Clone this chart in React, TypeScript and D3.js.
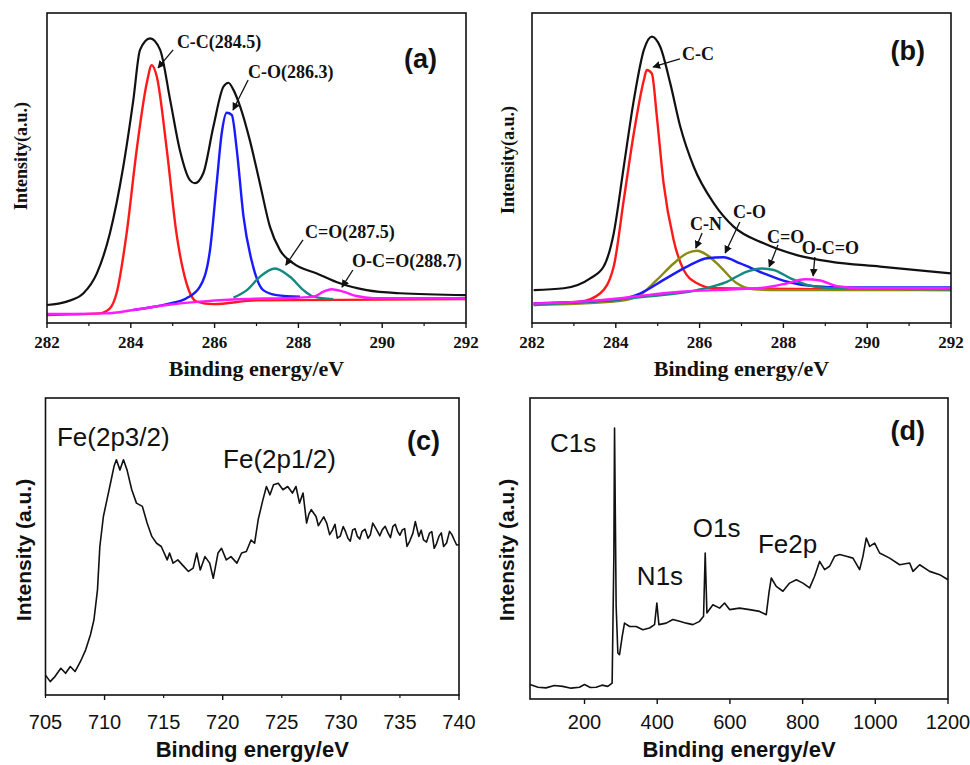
import React from "react";
import * as d3 from "d3";

type Pt = [number, number];

// ---- panel (a): C1s fit, sample 1 ----
const aEnvelope: Pt[] = [
  [282.0, 5.8], [282.47, 6.9], [282.87, 9.6], [283.19, 16.0], [283.5, 28.9], [283.82, 50.4],
  [284.06, 71.9], [284.22, 88.1], [284.46, 91.8], [284.7, 88.1], [284.94, 71.9], [285.17, 55.8],
  [285.41, 46.1], [285.53, 45.1], [285.73, 48.3], [285.97, 63.3], [286.21, 76.2], [286.33, 77.5],
  [286.45, 75.2], [286.61, 69.8], [286.84, 59.0], [287.08, 45.1], [287.32, 31.1], [287.56, 23.5],
  [287.88, 19.2], [288.44, 16.0], [288.99, 12.8], [289.63, 10.6], [290.42, 9.6], [292.0, 9.0],
];
const aCC: Pt[] = [
  [282.0, 2.6], [283.26, 3.1], [283.5, 4.7], [283.66, 9.6], [283.9, 28.9], [284.14, 55.8],
  [284.38, 77.3], [284.5, 83.2], [284.62, 79.5], [284.86, 55.8], [285.09, 28.9], [285.33, 12.8],
  [285.57, 6.9], [285.97, 6.1], [287.0, 7.3], [292.0, 7.7],
];
const aCO: Pt[] = [
  [284.06, 4.2], [284.86, 6.1], [285.33, 8.0], [285.65, 11.7], [285.89, 23.5], [286.05, 45.1],
  [286.17, 61.2], [286.29, 67.8], [286.41, 67.1], [286.53, 55.8], [286.69, 34.3], [286.92, 18.2],
  [287.16, 10.6], [287.48, 9.0], [288.04, 8.5],
];
const aCdO: Pt[] = [
  [286.45, 8.2], [286.77, 10.6], [287.08, 14.9], [287.44, 17.6], [287.8, 14.9], [288.12, 10.6],
  [288.36, 8.5], [288.83, 7.7],
];
const aOCO: Pt[] = [
  [282.0, 2.9], [283.42, 3.1], [284.06, 4.2], [284.86, 5.8], [285.65, 6.9], [286.45, 7.6],
  [288.04, 8.2], [288.36, 8.5], [288.6, 10.1], [288.79, 10.9], [289.07, 10.1], [289.39, 8.7],
  [289.79, 8.0], [292.0, 8.0],
];

// ---- panel (b): C1s fit, sample 2 ----
const bEnvelope: Pt[] = [
  [282.04, 10.6], [282.76, 11.2], [283.39, 14.4], [283.71, 18.2], [283.95, 28.9], [284.19, 50.4],
  [284.43, 71.9], [284.67, 88.1], [284.86, 92.4], [285.06, 89.1], [285.3, 77.3], [285.54, 63.3],
  [285.86, 50.4], [286.34, 38.6], [286.81, 31.1], [287.53, 25.7], [288.32, 21.9], [289.12, 19.8],
  [290.31, 18.2], [292.0, 16.0],
];
const bCC: Pt[] = [
  [282.04, 6.3], [283.15, 6.9], [283.63, 9.6], [283.95, 18.2], [284.19, 39.7], [284.43, 61.2],
  [284.67, 78.4], [284.74, 81.6], [284.86, 80.5], [284.98, 66.6], [285.14, 45.1], [285.38, 26.8],
  [285.62, 17.1], [285.94, 12.8], [286.34, 11.2], [292.0, 10.6],
];
const bCN: Pt[] = [
  [282.04, 5.8], [283.95, 6.9], [284.51, 8.5], [284.98, 13.9], [285.38, 19.2], [285.7, 22.5],
  [285.94, 23.3], [286.18, 21.9], [286.49, 18.2], [286.89, 12.8], [287.29, 10.9], [287.93, 10.6],
  [292.0, 10.6],
];
const bCO: Pt[] = [
  [282.04, 6.3], [283.95, 7.4], [284.59, 9.6], [285.14, 13.9], [285.7, 18.2], [286.18, 20.9],
  [286.57, 21.2], [286.97, 19.2], [287.53, 16.0], [288.09, 13.3], [288.72, 11.9], [289.52, 11.5],
  [292.0, 11.5],
];
const bCdO: Pt[] = [
  [282.04, 5.8], [284.74, 8.5], [285.94, 10.6], [286.65, 13.3], [287.13, 16.6], [287.49, 17.6],
  [287.77, 17.1], [288.17, 14.4], [288.56, 12.3], [289.12, 11.2], [292.0, 10.9],
];
const bOCO: Pt[] = [
  [282.04, 6.3], [283.15, 6.9], [284.11, 8.0], [284.74, 9.0], [285.54, 10.1], [286.34, 10.6],
  [287.53, 11.4], [288.09, 12.8], [288.52, 14.1], [288.88, 13.7], [289.28, 11.9], [289.92, 11.2],
  [292.0, 11.2],
];

// ---- panel (c): Fe2p ----
const cFe2p: Pt[] = [
  [705.0, 6.7], [705.4, 4.5], [705.8, 6.2], [706.3, 9.0], [706.7, 7.3], [707.1, 9.6], [707.5, 7.9],
  [707.95, 11.2], [708.4, 15.2], [708.8, 20.2], [709.1, 25.3], [709.4, 35.4], [709.6, 50.0],
  [709.9, 60.1], [710.2, 65.7], [710.5, 71.3], [710.8, 77.0], [711.0, 79.2], [711.3, 75.8],
  [711.6, 79.2], [711.9, 75.8], [712.3, 69.1], [712.7, 64.6], [713.2, 63.5], [713.6, 57.9],
  [714.0, 53.4], [714.4, 51.1], [714.8, 50.0], [715.3, 45.5], [715.5, 47.8], [715.8, 44.4],
  [716.2, 45.5], [716.7, 43.3], [717.1, 41.6], [717.5, 42.7], [717.8, 47.8], [718.1, 42.1],
  [718.5, 46.6], [718.9, 44.4], [719.2, 39.3], [719.6, 47.8], [719.9, 49.4], [720.3, 45.5],
  [720.7, 46.6], [721.2, 44.4], [721.6, 47.8], [722.0, 48.3], [722.4, 52.2], [722.7, 51.1],
  [723.0, 59.0], [723.4, 65.7], [723.7, 70.2], [724.0, 67.4], [724.3, 70.8], [724.7, 71.3],
  [725.1, 69.1], [725.5, 70.2], [725.9, 68.0], [726.2, 70.2], [726.5, 64.6], [726.8, 68.0],
  [727.1, 57.9], [727.3, 61.0], [727.5, 62.4], [727.9, 60.1], [728.1, 57.0], [728.3, 58.4],
  [728.55, 60.0], [728.8, 57.9], [729.05, 54.0], [729.3, 55.6], [729.5, 57.5], [729.7, 52.8],
  [729.95, 53.5], [730.2, 56.7], [730.4, 55.0], [730.6, 52.8], [730.8, 51.8], [731.0, 55.6],
  [731.2, 56.0], [731.4, 53.4], [731.6, 52.5], [731.8, 55.1], [732.05, 55.8], [732.3, 52.8],
  [732.5, 54.0], [732.7, 57.9], [732.9, 56.5], [733.1, 55.1], [733.3, 53.6], [733.5, 55.6],
  [733.75, 56.8], [734.0, 54.5], [734.2, 53.0], [734.4, 56.7], [734.6, 57.5], [734.8, 55.1],
  [735.0, 53.8], [735.2, 55.6], [735.4, 56.0], [735.6, 50.0], [735.85, 52.0], [736.1, 54.5],
  [736.3, 58.4], [736.6, 53.4], [736.8, 55.5], [737.0, 52.2], [737.25, 51.5], [737.5, 54.5],
  [737.7, 55.0], [737.9, 49.4], [738.1, 51.0], [738.3, 53.4], [738.5, 54.6], [738.7, 50.0],
  [738.95, 51.2], [739.2, 55.1], [739.4, 54.0], [739.6, 52.2], [739.8, 50.5], [740.0, 50.6],
];

// ---- panel (d): survey ----
const dSurvey: Pt[] = [
  [50, 4.8], [72, 3.9], [94, 3.7], [117, 4.5], [140, 4.2], [163, 3.6], [186, 3.9], [200, 4.8],
  [216, 3.8], [232, 3.9], [248, 4.6], [264, 4.2], [276, 5.3],
  [280.7, 47.4], [282.6, 90.0], [285.3, 54.0], [287, 30.8], [291.7, 15.3], [296.3, 14.7],
  [303.7, 20.8], [310, 25.2], [324, 24.1], [342, 24.1], [360.6, 23.0], [378.9, 23.6], [392.7, 24.7],
  [399, 31.9], [404.6, 24.7], [424.8, 25.2], [443, 26.4], [461.5, 25.8], [479.8, 25.2],
  [498.2, 24.7], [516.5, 25.8], [527.5, 27.5], [532, 48.5], [536.7, 28.6], [553.2, 31.3],
  [571.6, 30.2], [585.3, 31.9], [599, 29.7], [626.6, 30.2], [654, 29.7], [681.7, 29.1], [700, 28.0],
  [707.3, 35.2], [713.8, 40.2], [727.5, 37.4], [745.9, 35.8], [764.2, 38.5], [782.6, 39.6],
  [800.9, 38.5], [819.3, 36.9], [833, 40.8], [846.8, 45.7], [860.6, 43.0], [874.3, 44.1],
  [888, 47.4], [901.8, 48.0], [920.2, 47.4], [938.5, 46.8], [956.9, 43.0], [966, 47.4],
  [975.2, 53.5], [984.4, 50.7], [998.2, 51.8], [1011.9, 48.5], [1039.4, 46.8], [1067, 44.6],
  [1094.5, 45.2], [1103.7, 42.4], [1122, 44.6], [1149.5, 42.4], [1177, 41.3], [1200, 39.6],
];

const ticksAB = [282, 284, 286, 288, 290, 292];
const minorAB = [283, 285, 287, 289, 291];
const ticksC = [705, 710, 715, 720, 725, 730, 735, 740];
const ticksD = [200, 400, 600, 800, 1000, 1200];

const SERIF = "'Liberation Serif', 'Times New Roman', serif";
const SANS = "'Liberation Sans', Arial, sans-serif";

interface Series { data: Pt[]; color: string; width: number; smooth?: boolean }
interface Note { text: string; at: Pt; from?: Pt; to?: Pt }
interface PanelProps {
  frame: { left: number; right: number; top: number; bottom: number };
  xDomain: [number, number];
  series: Series[];
  ticks: number[];
  longTicks: number[];
  shortTicks: number[];
  serif: boolean;
  tickBase: number;
  titleBase: number;
  yTitle: string;
  yTitleX: number;
  yTitleY: number;
  tag: string;
  tagRight: number;
  tagBase: number;
  notes: Note[];
}

function Panel(p: PanelProps) {
  const { left, right, top, bottom } = p.frame;
  const x = d3.scaleLinear().domain(p.xDomain).range([left, right]);
  const y = d3.scaleLinear().domain([0, 100]).range([bottom, top]);
  const font = p.serif ? SERIF : SANS;

  return (
    <g>
      {p.series.map((s, i) => {
        const line = d3
          .line<Pt>()
          .x((d) => x(d[0]))
          .y((d) => y(d[1]))
          .curve(s.smooth ? d3.curveMonotoneX : d3.curveLinear);
        return (
          <path key={i} d={line(s.data) || ""} fill="none" stroke={s.color}
            strokeWidth={s.width} strokeLinejoin="round" />
        );
      })}
      <rect x={left} y={top} width={right - left} height={bottom - top}
        fill="none" stroke="#111" strokeWidth={1.6} />
      {p.longTicks.map((t) => (
        <line key={"l" + t} x1={x(t)} x2={x(t)} y1={bottom} y2={bottom + 5} stroke="#111" strokeWidth={1.4} />
      ))}
      {p.shortTicks.map((t) => (
        <line key={"s" + t} x1={x(t)} x2={x(t)} y1={bottom} y2={bottom + 3} stroke="#111" strokeWidth={1.2} />
      ))}
      {p.ticks.map((t) => (
        <text key={"t" + t} x={x(t)} y={p.tickBase}
          textAnchor="middle" fontFamily={font}
          fontWeight={p.serif ? "bold" : "normal"}
          fontSize={p.serif ? 17 : 20} fill="#111">
          {t}
        </text>
      ))}
      <text x={(left + right) / 2} y={p.titleBase} textAnchor="middle"
        fontFamily={font} fontWeight="bold" fontSize={22} fill="#111">
        Binding energy/eV
      </text>
      <text transform={`translate(${p.yTitleX},${p.yTitleY}) rotate(-90)`} textAnchor="middle"
        fontFamily={font} fontWeight="bold" fontSize={p.serif ? 18 : 21} fill="#111">
        {p.yTitle}
      </text>
      <text x={right - p.tagRight} y={top + p.tagBase} textAnchor="end"
        fontFamily={SANS} fontWeight="bold" fontSize={27} fill="#111">
        {p.tag}
      </text>
      {p.notes.map((n, i) => (
        <g key={"n" + i}>
          {n.from && n.to && (
            <line x1={x(n.from[0])} y1={y(n.from[1])} x2={x(n.to[0])} y2={y(n.to[1])}
              stroke="#111" strokeWidth={1.3} markerEnd="url(#arrow)" />
          )}
          <text x={x(n.at[0])} y={y(n.at[1])} fontFamily={font}
            fontWeight={p.serif ? "bold" : "normal"} fontSize={p.serif ? 18 : 26} fill="#111">
            {n.text}
          </text>
        </g>
      ))}
    </g>
  );
}

export default function App() {
  return (
    <svg width={970} height={765} style={{ position: "absolute", left: 0, top: 0, background: "#fff" }}>
      <defs>
        <marker id="arrow" viewBox="0 0 10 10" refX={9} refY={5} markerWidth={6} markerHeight={6} orient="auto">
          <path d="M0,0 L10,5 L0,10 z" fill="#111" />
        </marker>
      </defs>
      <Panel
        frame={{ left: 47, right: 466, top: 13, bottom: 323 }}
        xDomain={[282, 292]}
        series={[
          { data: aEnvelope, color: "#111", width: 2.2, smooth: true },
          { data: aCC, color: "#ff1a1a", width: 2.4, smooth: true },
          { data: aCO, color: "#1a1aff", width: 2.4, smooth: true },
          { data: aCdO, color: "#138a80", width: 2.4, smooth: true },
          { data: aOCO, color: "#ff1aff", width: 2.4, smooth: true },
        ]}
        ticks={ticksAB}
        longTicks={ticksAB}
        shortTicks={minorAB}
        serif
        tickBase={348}
        titleBase={376}
        yTitle="Intensity(a.u.)"
        yTitleX={27}
        yTitleY={156}
        tag="(a)"
        tagRight={29}
        tagBase={55}
        notes={[
          { text: "C-C(284.5)", at: [285.1, 88.7], from: [285.01, 88.1], to: [284.65, 82.3] },
          { text: "C-O(286.3)", at: [286.8, 79.0], from: [286.8, 78.4], to: [286.44, 68.7] },
          { text: "C=O(287.5)", at: [288.16, 27.4], from: [288.11, 26.8], to: [287.7, 18.7] },
          { text: "O-C=O(288.7)", at: [289.28, 18.1], from: [289.3, 17.1], to: [289.04, 11.6] },
        ]}
      />
      <Panel
        frame={{ left: 532, right: 951, top: 13, bottom: 323 }}
        xDomain={[282, 292]}
        series={[
          { data: bEnvelope, color: "#111", width: 2.2, smooth: true },
          { data: bCC, color: "#ff1a1a", width: 2.4, smooth: true },
          { data: bCN, color: "#8a8a10", width: 2.4, smooth: true },
          { data: bCO, color: "#1a1aff", width: 2.4, smooth: true },
          { data: bCdO, color: "#138a80", width: 2.4, smooth: true },
          { data: bOCO, color: "#ff1aff", width: 2.4, smooth: true },
        ]}
        ticks={ticksAB}
        longTicks={ticksAB}
        shortTicks={minorAB}
        serif
        tickBase={348}
        titleBase={376}
        yTitle="Intensity(a.u.)"
        yTitleX={514}
        yTitleY={160}
        tag="(b)"
        tagRight={26}
        tagBase={47}
        notes={[
          { text: "C-C", at: [285.58, 84.8], from: [285.53, 85.2], to: [284.89, 82.6] },
          { text: "C-N", at: [285.77, 30.0], from: [286.06, 29.0], to: [285.91, 24.2] },
          { text: "C-O", at: [286.8, 33.9], from: [286.96, 32.6], to: [286.61, 22.6] },
          { text: "C=O", at: [287.61, 25.8], from: [287.87, 25.2], to: [287.66, 18.1] },
          { text: "O-C=O", at: [288.44, 22.3], from: [288.75, 21.3], to: [288.71, 15.2] },
        ]}
      />
      <Panel
        frame={{ left: 45.5, right: 459, top: 398, bottom: 695 }}
        xDomain={[705, 740]}
        series={[{ data: cFe2p, color: "#111", width: 1.6 }]}
        ticks={ticksC}
        longTicks={[710, 720, 730, 740]}
        shortTicks={[705, 715, 725, 735]}
        serif={false}
        tickBase={729}
        titleBase={757}
        yTitle="Intensity (a.u.)"
        yTitleX={31}
        yTitleY={550}
        tag="(c)"
        tagRight={19}
        tagBase={52}
        notes={[
          { text: "Fe(2p3/2)", at: [705.97, 83.8] },
          { text: "Fe(2p1/2)", at: [720.03, 76.4] },
        ]}
      />
      <Panel
        frame={{ left: 530, right: 948, top: 398, bottom: 699 }}
        xDomain={[50, 1200]}
        series={[{ data: dSurvey, color: "#111", width: 1.6 }]}
        ticks={ticksD}
        longTicks={ticksD}
        shortTicks={[]}
        serif={false}
        tickBase={729}
        titleBase={757}
        yTitle="Intensity (a.u.)"
        yTitleX={514}
        yTitleY={550}
        tag="(d)"
        tagRight={23}
        tagBase={42}
        notes={[
          { text: "C1s", at: [105, 82.1] },
          { text: "N1s", at: [344, 37.9] },
          { text: "O1s", at: [498, 53.8] },
          { text: "Fe2p", at: [677, 48.5] },
        ]}
      />
    </svg>
  );
}
